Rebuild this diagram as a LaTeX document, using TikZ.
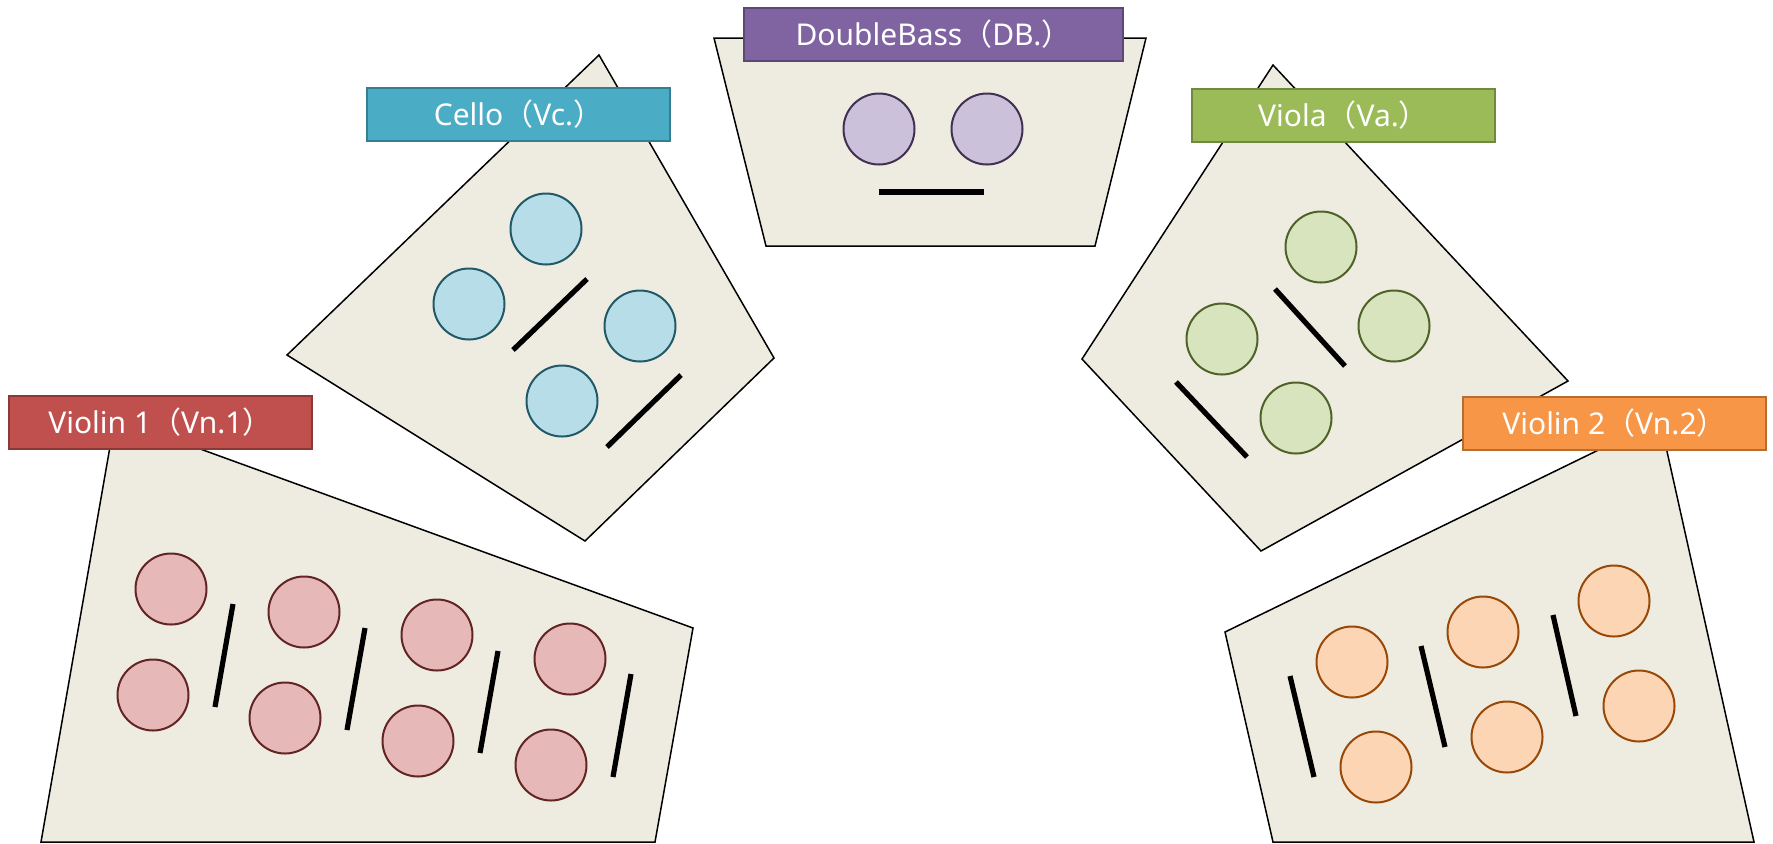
\documentclass[tikz,border=0pt]{standalone}
\usepackage{fontspec}
\newfontfamily\labfont{Noto Sans}
\newfontfamily\cjkfont{Noto Sans CJK JP}
\newcommand{\wide}[1]{{\cjkfont #1}}
% Office-style palette
\definecolor{stage}{HTML}{EEECE1}
\definecolor{vnA}{HTML}{C0504D}\definecolor{vnAline}{HTML}{8C3836}
\definecolor{vnAfill}{HTML}{E6B9B8}\definecolor{vnAdark}{HTML}{632523}
\definecolor{vcA}{HTML}{4BACC6}\definecolor{vcAline}{HTML}{357D91}
\definecolor{vcAfill}{HTML}{B7DEE8}\definecolor{vcAdark}{HTML}{215968}
\definecolor{dbA}{HTML}{8064A2}\definecolor{dbAline}{HTML}{5C4776}
\definecolor{dbAfill}{HTML}{CCC1DA}\definecolor{dbAdark}{HTML}{403152}
\definecolor{vaA}{HTML}{9BBB59}\definecolor{vaAline}{HTML}{71893F}
\definecolor{vaAfill}{HTML}{D7E4BD}\definecolor{vaAdark}{HTML}{4F6228}
\definecolor{vnB}{HTML}{F79646}\definecolor{vnBline}{HTML}{B66D31}
\definecolor{vnBfill}{HTML}{FCD5B5}\definecolor{vnBdark}{HTML}{984807}
\begin{document}
\begin{tikzpicture}[x=0.5pt,y=-0.5pt,
  desk/.style={fill=stage, draw=black, line width=0.75pt, line join=miter},
  player/.style={circle, minimum size=35.5pt, inner sep=0pt, line width=1pt},
  stand/.style={line width=2.6pt},
  lab/.style={rectangle, minimum height=26.5pt, minimum width=151.5pt, inner sep=0pt,
    line width=1pt, text=white, font=\labfont\fontsize{15}{18}\selectfont}]
\useasboundingbox (0,0) rectangle (1773,843);

% ---- section areas ----
\draw[desk] (115,418) -- (693,628) -- (655,842) -- (41,842) -- cycle;          % Violin 1
\draw[desk] (599,55) -- (774,358) -- (585,541) -- (287,355) -- cycle;          % Cello
\draw[desk] (714,38) -- (1146,38) -- (1095,246) -- (766,246) -- cycle;         % Double bass
\draw[desk] (1273,65) -- (1568,381) -- (1261,551) -- (1082,359) -- cycle;      % Viola
\draw[desk] (1660,420) -- (1754,842) -- (1273,842) -- (1225,632) -- cycle;     % Violin 2

% ---- Violin 1 ----
\foreach \n/\x/\y in {a/171/589, b/304/612, c/437/635, d/570/659,
                      e/153/695, f/285/718, g/418/741, h/551/765}
  \node[player, fill=vnAfill, draw=vnAdark] (vnA\n) at (\x,\y) {};
\foreach \n/\xa/\ya/\xb/\yb in {1/233/604/215/707, 2/365/628/347/730,
                                3/498/651/480/753, 4/631/674/613/777}{
  \coordinate (vnAs\n t) at (\xa,\ya); \coordinate (vnAs\n b) at (\xb,\yb);
  \draw[stand] (vnAs\n t) -- (vnAs\n b);}

% ---- Cello ----
\foreach \n/\x/\y in {a/546/229, b/469/304, c/640/326, d/562/401}
  \node[player, fill=vcAfill, draw=vcAdark] (vc\n) at (\x,\y) {};
\foreach \n/\xa/\ya/\xb/\yb in {1/587/279/513/350, 2/681/375/607/447}{
  \coordinate (vcs\n t) at (\xa,\ya); \coordinate (vcs\n b) at (\xb,\yb);
  \draw[stand] (vcs\n t) -- (vcs\n b);}

% ---- Double bass ----
\foreach \n/\x/\y in {a/879/129, b/987/129}
  \node[player, fill=dbAfill, draw=dbAdark] (db\n) at (\x,\y) {};
\coordinate (dbsl) at (879,192); \coordinate (dbsr) at (984,192);
\draw[stand] (dbsl) -- (dbsr);

% ---- Viola ----
\foreach \n/\x/\y in {a/1321/247, b/1222/339, c/1394/326, d/1296/418}
  \node[player, fill=vaAfill, draw=vaAdark] (va\n) at (\x,\y) {};
\foreach \n/\xa/\ya/\xb/\yb in {1/1275/289/1345/366, 2/1176/382/1247/457}{
  \coordinate (vas\n t) at (\xa,\ya); \coordinate (vas\n b) at (\xb,\yb);
  \draw[stand] (vas\n t) -- (vas\n b);}

% ---- Violin 2 ----
\foreach \n/\x/\y in {a/1352/662, b/1483/632, c/1614/601,
                      d/1376/767, e/1507/737, f/1639/706}
  \node[player, fill=vnBfill, draw=vnBdark] (vnB\n) at (\x,\y) {};
\foreach \n/\xa/\ya/\xb/\yb in {1/1290/676/1314/777, 2/1421/646/1445/747,
                                3/1553/615/1576/716}{
  \coordinate (vnBs\n t) at (\xa,\ya); \coordinate (vnBs\n b) at (\xb,\yb);
  \draw[stand] (vnBs\n t) -- (vnBs\n b);}

% ---- section labels ----
\node[lab, fill=vnA, draw=vnAline] (vnAlab) at (160.5,422.5) {Violin 1\wide{（}Vn.1\wide{）}};
\node[lab, fill=vcA, draw=vcAline] (vclab) at (518.5,114.5) {Cello\wide{（}Vc.\wide{）}};
\node[lab, fill=dbA, draw=dbAline, minimum width=189.5pt] (dblab) at (933.5,34.5) {DoubleBass\wide{（}DB.\wide{）}};
\node[lab, fill=vaA, draw=vaAline] (valab) at (1343.5,115) {Viola\wide{（}Va.\wide{）}};
\node[lab, fill=vnB, draw=vnBline] (vnBlab) at (1614.5,423.5) {Violin 2\wide{（}Vn.2\wide{）}};
\end{tikzpicture}
\end{document}
